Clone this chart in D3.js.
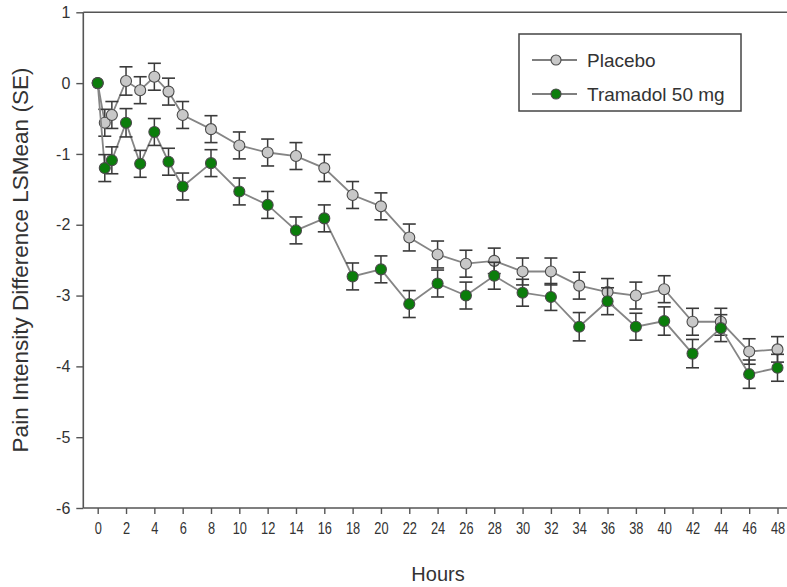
<!DOCTYPE html>
<html>
<head>
<meta charset="utf-8">
<script src="https://cdn.jsdelivr.net/npm/d3@7"></script>
<style>
  html, body { margin: 0; padding: 0; background: #fff; }
  svg { display: block; }
</style>
</head>
<body>
<svg id="chart" width="787" height="587"></svg>
<script>
const hours = [0, 0.5, 1, 2, 3, 4, 5, 6, 8, 10, 12, 14, 16, 18, 20, 22, 24, 26, 28, 30, 32, 34, 36, 38, 40, 42, 44, 46, 48];
const placebo = [0, -0.56, -0.45, 0.03, -0.10, 0.09, -0.12, -0.45, -0.65, -0.88, -0.98, -1.03, -1.20, -1.58, -1.74, -2.18, -2.42, -2.55, -2.51, -2.66, -2.66, -2.86, -2.95, -3.00, -2.91, -3.37, -3.37, -3.79, -3.76];
const placeboSE = [0, 0.19, 0.19, 0.2, 0.19, 0.19, 0.19, 0.19, 0.19, 0.19, 0.19, 0.19, 0.19, 0.19, 0.19, 0.19, 0.19, 0.19, 0.18, 0.19, 0.19, 0.19, 0.19, 0.19, 0.19, 0.19, 0.19, 0.18, 0.18];
const tramadol = [0, -1.20, -1.09, -0.56, -1.14, -0.69, -1.11, -1.46, -1.13, -1.53, -1.72, -2.08, -1.91, -2.73, -2.63, -3.12, -2.83, -3.00, -2.72, -2.96, -3.02, -3.44, -3.08, -3.44, -3.36, -3.82, -3.46, -4.11, -4.02];
const tramadolSE = [0, 0.19, 0.19, 0.2, 0.19, 0.19, 0.19, 0.19, 0.19, 0.19, 0.19, 0.19, 0.19, 0.19, 0.19, 0.19, 0.19, 0.19, 0.19, 0.19, 0.19, 0.2, 0.19, 0.19, 0.2, 0.2, 0.19, 0.2, 0.19];
const xTicks = [0, 2, 4, 6, 8, 10, 12, 14, 16, 18, 20, 22, 24, 26, 28, 30, 32, 34, 36, 38, 40, 42, 44, 46, 48];
const yTicks = [1, 0, -1, -2, -3, -4, -5, -6];
const seriesNames = ["Placebo", "Tramadol 50 mg"];
const seriesColors = ["#c8c8c8", "#0b7d0b"];

const svg = d3.select("#chart");
const x = d3.scaleLinear().domain([0, 48]).range([97.7, 777.5]);
const y = d3.scaleLinear().domain([-6, 1]).range([508, 12.3]);
const axisLeftX = 83.3;
const textColor = "#333";
const font = "Arial, 'Liberation Sans', sans-serif";

// frame lines: top, left, bottom
svg.append("line").attr("x1", axisLeftX).attr("x2", 787).attr("y1", y(1)).attr("y2", y(1))
  .attr("stroke", "#555").attr("stroke-width", 1.6);
svg.append("line").attr("x1", axisLeftX).attr("x2", axisLeftX).attr("y1", y(1)).attr("y2", y(-6))
  .attr("stroke", "#555").attr("stroke-width", 1.6);
svg.append("line").attr("x1", axisLeftX).attr("x2", 787).attr("y1", y(-6)).attr("y2", y(-6))
  .attr("stroke", "#555").attr("stroke-width", 1.6);

// y axis
const yAxis = svg.append("g").attr("transform", `translate(${axisLeftX},0)`)
  .call(d3.axisLeft(y).tickValues(yTicks).tickFormat(d => String(d)).tickSize(7).tickPadding(6));
yAxis.select(".domain").remove();
yAxis.selectAll(".tick line").attr("stroke", "#555").attr("stroke-width", 1.4);
yAxis.selectAll(".tick text").attr("fill", textColor).style("font-family", font).style("font-size", "16px");

// x axis
const xAxis = svg.append("g").attr("transform", `translate(0,${y(-6)})`)
  .call(d3.axisBottom(x).tickValues(xTicks).tickFormat(d => String(d)).tickSize(6).tickPadding(9));
xAxis.select(".domain").remove();
xAxis.selectAll(".tick line").attr("stroke", "#555").attr("stroke-width", 1.4);
xAxis.selectAll(".tick text").attr("fill", textColor)
  .attr("transform", "scale(0.8,1)")
  .style("font-family", font).style("font-size", "16px");

// axis titles
svg.append("text").attr("x", 438).attr("y", 581).attr("text-anchor", "middle")
  .attr("fill", textColor).style("font-family", font).style("font-size", "20px").text("Hours");
svg.append("text").attr("transform", `translate(28,260) rotate(-90)`).attr("text-anchor", "middle")
  .attr("fill", textColor).style("font-family", font).style("font-size", "22.5px")
  .text("Pain Intensity Difference LSMean (SE)");

// series
const series = [
  { name: seriesNames[0], vals: placebo, se: placeboSE, color: seriesColors[0] },
  { name: seriesNames[1], vals: tramadol, se: tramadolSE, color: seriesColors[1] }
];
const line = d3.line().x(d => x(d.h)).y(d => y(d.v));
const capW = 6.5;

series.forEach(s => {
  const pts = hours.map((h, i) => ({ h, v: s.vals[i], se: s.se[i] }));
  const g = svg.append("g");
  g.append("path").datum(pts).attr("d", line).attr("fill", "none")
    .attr("stroke", "#858585").attr("stroke-width", 1.8);
  const eb = g.selectAll(".eb").data(pts.filter(p => p.se > 0)).enter().append("g");
  eb.append("line").attr("x1", d => x(d.h)).attr("x2", d => x(d.h))
    .attr("y1", d => y(d.v + d.se)).attr("y2", d => y(d.v - d.se))
    .attr("stroke", "#3a3a3a").attr("stroke-width", 1.5);
  eb.append("line").attr("x1", d => x(d.h) - capW).attr("x2", d => x(d.h) + capW)
    .attr("y1", d => y(d.v + d.se)).attr("y2", d => y(d.v + d.se))
    .attr("stroke", "#3a3a3a").attr("stroke-width", 1.6);
  eb.append("line").attr("x1", d => x(d.h) - capW).attr("x2", d => x(d.h) + capW)
    .attr("y1", d => y(d.v - d.se)).attr("y2", d => y(d.v - d.se))
    .attr("stroke", "#3a3a3a").attr("stroke-width", 1.6);
  g.selectAll(".pt").data(pts).enter().append("circle")
    .attr("cx", d => x(d.h)).attr("cy", d => y(d.v)).attr("r", 5.5)
    .attr("fill", s.color).attr("stroke", "#4a4a4a").attr("stroke-width", 1.1);
});

// legend
const lg = svg.append("g");
lg.append("rect").attr("x", 519).attr("y", 34).attr("width", 222).attr("height", 77)
  .attr("fill", "#fff").attr("stroke", "#444").attr("stroke-width", 1.5);
series.forEach((s, i) => {
  const ly = 60 + i * 34;
  lg.append("line").attr("x1", 532).attr("x2", 577).attr("y1", ly).attr("y2", ly)
    .attr("stroke", "#555").attr("stroke-width", 1.5);
  lg.append("circle").attr("cx", 556).attr("cy", ly).attr("r", 5)
    .attr("fill", s.color).attr("stroke", "#4a4a4a").attr("stroke-width", 1.1);
  lg.append("text").attr("x", 587).attr("y", ly + 6.5).attr("fill", textColor)
    .style("font-family", font).style("font-size", "19px").text(s.name);
});
</script>
</body>
</html>
